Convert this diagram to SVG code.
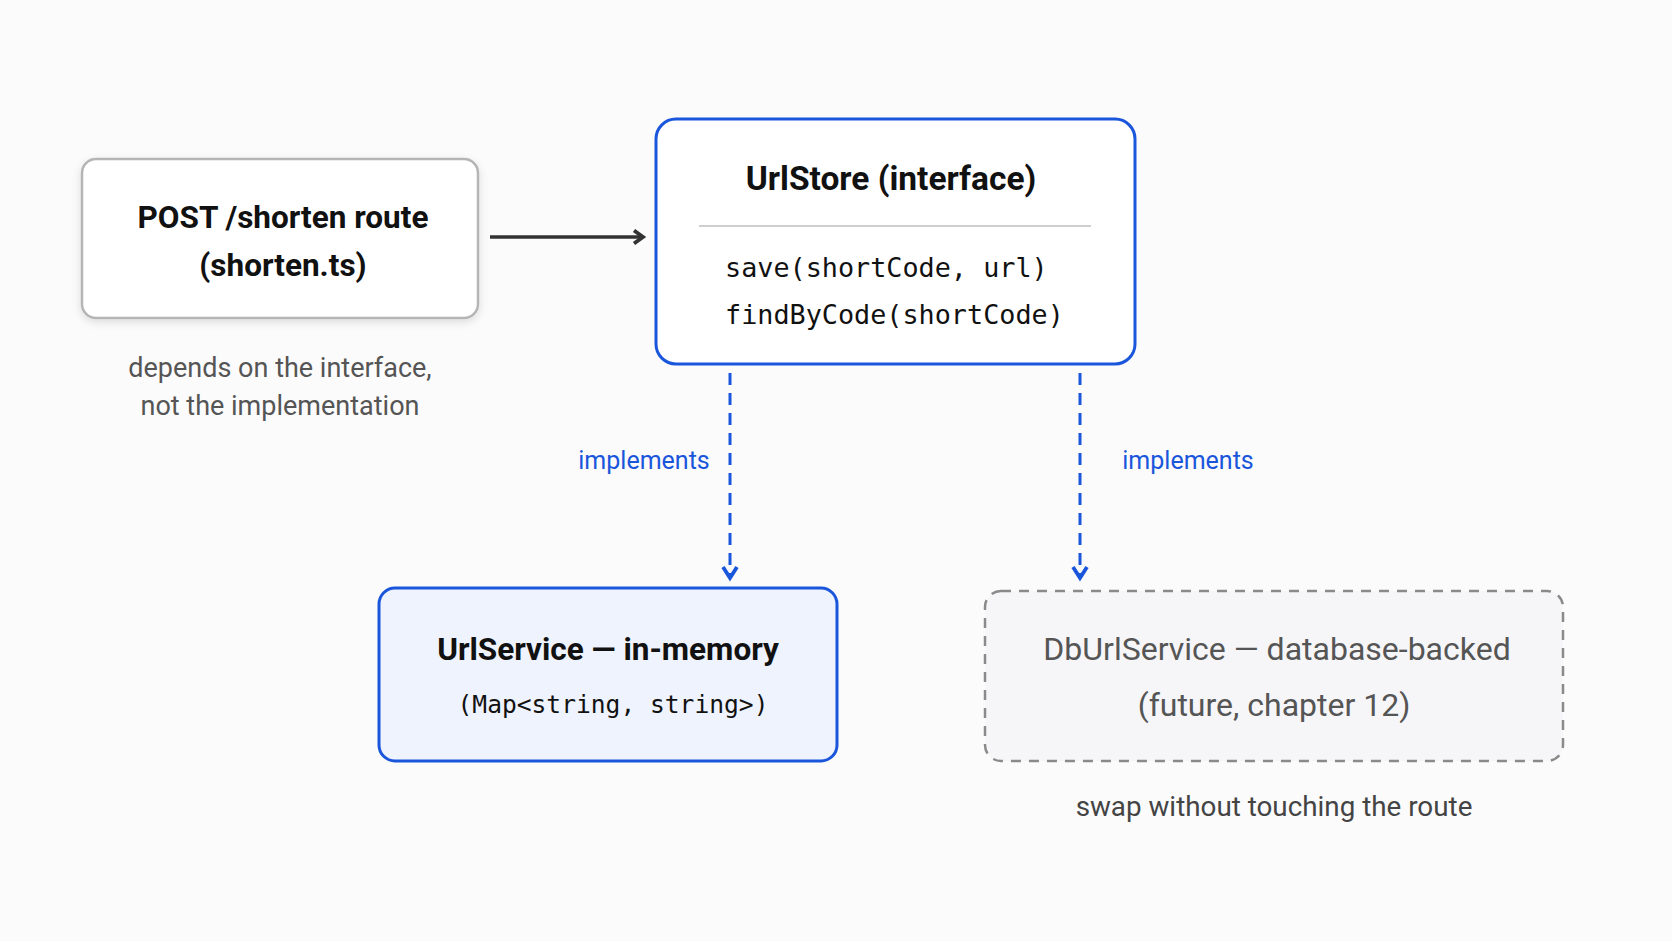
<svg xmlns="http://www.w3.org/2000/svg" width="1672" height="941" viewBox="0 0 1672 941">
<defs>
<style>
.title{font-family:Roboto,"Liberation Sans",sans-serif;font-weight:700;font-size:31.5px;fill:#111;text-anchor:middle}
.note{font-family:Roboto,"Liberation Sans",sans-serif;font-size:27px;fill:#555;text-anchor:middle}
.impl{font-family:Roboto,"Liberation Sans",sans-serif;font-size:25px;fill:#1a56db;text-anchor:middle}
.mono{font-family:"DejaVu Sans Mono","Liberation Mono",monospace;font-size:26.8px;fill:#111}
.muted{font-family:Roboto,"Liberation Sans",sans-serif;font-size:32px;fill:#555;text-anchor:middle}
.dash{stroke:#1a56db;stroke-width:3;stroke-dasharray:12 8;fill:none}
</style>
<filter id="sh" x="-10%" y="-10%" width="120%" height="130%">
<feDropShadow dx="0" dy="3" stdDeviation="4" flood-color="#000" flood-opacity="0.12"/>
</filter>
<marker id="arrDark" viewBox="0 0 16 16" refX="12" refY="8" markerWidth="16" markerHeight="16" markerUnits="userSpaceOnUse" orient="auto">
<path d="M3,1.5 L12,8 L3,14.5" fill="none" stroke="#333" stroke-width="3.8"/>
</marker>
<marker id="arrBlue" viewBox="0 0 18 18" refX="14" refY="9" markerWidth="18" markerHeight="18" markerUnits="userSpaceOnUse" orient="auto">
<path d="M3,2 L14,9 L3,16" fill="none" stroke="#1a56db" stroke-width="3.8"/>
</marker>
</defs>
<rect width="1672" height="941" fill="#fbfbfc"/>

<g id="connectors">
<line x1="490" y1="237" x2="643" y2="237" stroke="#333" stroke-width="3.5" marker-end="url(#arrDark)"/>
<line x1="730" y1="373" x2="730" y2="578" class="dash" marker-end="url(#arrBlue)"/>
<line x1="1080" y1="373" x2="1080" y2="578" class="dash" marker-end="url(#arrBlue)"/>
<text x="644" y="469" class="impl">implements</text>
<text x="1188" y="469" class="impl">implements</text>
</g>

<g id="route">
<rect x="82" y="159" width="396" height="159" rx="14" fill="#fff" stroke="#b5b5b5" stroke-width="2.5" filter="url(#sh)"/>
<text x="283" y="228" class="title">POST /shorten route</text>
<text x="283" y="276" class="title">(shorten.ts)</text>
<text x="280" y="377" class="note">depends on the interface,</text>
<text x="280" y="415" class="note">not the implementation</text>
</g>

<g id="urlstore">
<rect x="656" y="119" width="479" height="245" rx="20" fill="#fff" stroke="#1a56db" stroke-width="3"/>
<text x="891" y="190" class="title" style="font-size:33.5px">UrlStore (interface)</text>
<line x1="699" y1="226" x2="1091" y2="226" stroke="#cfcfcf" stroke-width="2"/>
<text x="725" y="277" class="mono">save(shortCode, url)</text>
<text x="725" y="324" class="mono">findByCode(shortCode)</text>
</g>

<g id="urlservice">
<rect x="379" y="588" width="458" height="173" rx="16" fill="#eef3fd" stroke="#1a56db" stroke-width="3"/>
<text x="608" y="660" class="title">UrlService — in-memory</text>
<text x="613" y="713" class="mono" style="font-size:24.6px;text-anchor:middle">(Map&lt;string, string&gt;)</text>
</g>

<g id="dburlservice">
<rect x="985" y="591" width="578" height="170" rx="16" fill="#f6f6f8" stroke="#8a8a8a" stroke-width="2.5" stroke-dasharray="10 8"/>
<text x="1277" y="660" class="muted">DbUrlService — database-backed</text>
<text x="1274" y="716" class="muted">(future, chapter 12)</text>
<text x="1274" y="816" class="note" style="fill:#444;font-size:27.8px">swap without touching the route</text>
</g>
</svg>
